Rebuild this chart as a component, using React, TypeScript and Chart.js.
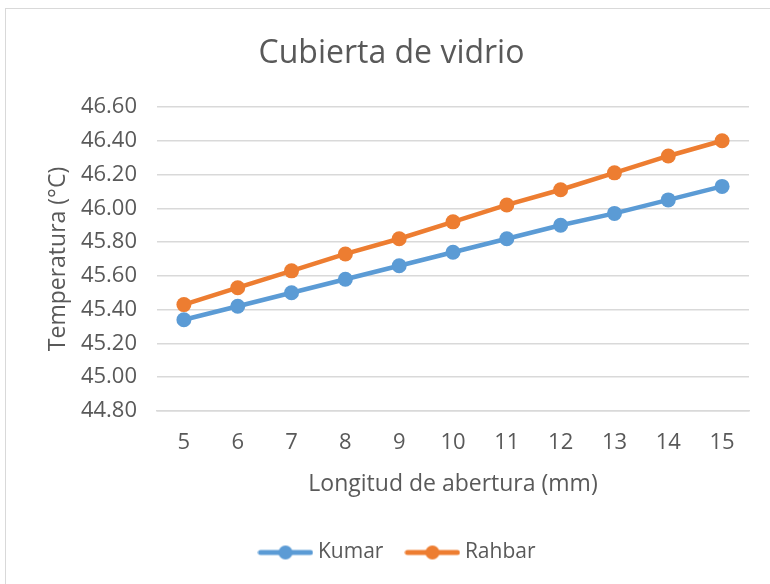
import { useEffect, useRef } from "react";
import { Chart, registerables } from "chart.js";

Chart.register(...registerables);

const categories = ["5", "6", "7", "8", "9", "10", "11", "12", "13", "14", "15"];
const kumar = [45.34, 45.42, 45.5, 45.58, 45.66, 45.74, 45.82, 45.9, 45.97, 46.05, 46.13];
const rahbar = [45.43, 45.53, 45.63, 45.73, 45.82, 45.92, 46.02, 46.11, 46.21, 46.31, 46.4];
const seriesNames = ["Kumar", "Rahbar"];
const seriesColors = ["#5B9BD5", "#ED7D31"];
const yMin = 44.8;
const yMax = 46.6;
const yStep = 0.2;
const titleText = "Cubierta de vidrio";
const xTitle = "Longitud de abertura (mm)";
const yTitle = "Temperatura (°C)";

const FONT = "'Open Sans', sans-serif";
const TEXT = "#595959";

function legendImage(color: string): HTMLCanvasElement {
  const c = document.createElement("canvas");
  c.width = 56;
  c.height = 16;
  const ctx = c.getContext("2d")!;
  ctx.strokeStyle = color;
  ctx.lineWidth = 5;
  ctx.lineCap = "round";
  ctx.beginPath();
  ctx.moveTo(3, 8);
  ctx.lineTo(53, 8);
  ctx.stroke();
  ctx.fillStyle = color;
  ctx.beginPath();
  ctx.arc(28, 8, 7, 0, Math.PI * 2);
  ctx.fill();
  return c;
}

const legendShift = {
  id: "legendShift",
  afterLayout(chart: any) {
    if (chart.legend) {
      chart.legend.left += 8;
      chart.legend.right += 8;
    }
  },
};

export default function App() {
  const ref = useRef<HTMLCanvasElement | null>(null);
  useEffect(() => {
    if (!ref.current) return;
    const images = seriesColors.map(legendImage);
    const chart = new Chart(ref.current, {
      type: "line",
      data: {
        labels: categories,
        datasets: [kumar, rahbar].map((d, i) => ({
          label: seriesNames[i],
          data: d,
          borderColor: seriesColors[i],
          backgroundColor: seriesColors[i],
          pointBackgroundColor: seriesColors[i],
          pointBorderColor: seriesColors[i],
          borderWidth: 4.5,
          pointRadius: 7.5,
          pointBorderWidth: 0,
          tension: 0,
        })),
      },
      plugins: [legendShift],
      options: {
        animation: false,
        responsive: false,
        layout: { padding: { left: 34, right: 21, top: 0, bottom: 11 } },
        plugins: {
          tooltip: { enabled: false },
          title: {
            display: true,
            text: titleText,
            color: TEXT,
            font: { family: FONT, size: 32, weight: "normal" },
            padding: { top: 35, bottom: 33.6 },
          },
          legend: {
            position: "bottom",
            labels: {
              usePointStyle: true,
              pointStyleWidth: 44,
              padding: 27,
              color: TEXT,
              font: { family: FONT, size: 21 },
              generateLabels: (ch: any) =>
                ch.data.datasets.map((ds: any, i: number) => ({
                  text: ds.label,
                  pointStyle: images[i],
                  fillStyle: ds.borderColor,
                  strokeStyle: ds.borderColor,
                  lineWidth: 0,
                  fontColor: TEXT,
                  datasetIndex: i,
                  hidden: false,
                })),
            },
          },
        },
        scales: {
          x: {
            offset: true,
            grid: { display: false },
            border: { display: true, color: "#d9d9d9", width: 1.5 },
            ticks: { color: TEXT, font: { family: FONT, size: 22 }, padding: 11 },
            title: {
              display: true,
              text: xTitle,
              color: TEXT,
              font: { family: FONT, size: 23 },
              padding: { top: 0, bottom: 17 },
            },
            afterFit: (s: any) => {
              s.height = 104;
            },
          },
          y: {
            min: yMin,
            max: yMax,
            grid: { color: "#d9d9d9", lineWidth: 1.5, drawTicks: false },
            border: { display: false },
            ticks: {
              stepSize: yStep,
              color: TEXT,
              font: { family: FONT, size: 22 },
              padding: 20,
              callback: (v: any) => Number(v).toFixed(2),
            },
            title: {
              display: true,
              text: yTitle,
              color: TEXT,
              font: { family: FONT, size: 23 },
              padding: { top: 11, bottom: 0 },
            },
            afterFit: (s: any) => {
              s.width = 123;
            },
          },
        },
      },
    });
    return () => chart.destroy();
  }, []);
  return (
    <div style={{ position: "fixed", left: 0, top: 0, width: 770, height: 584, background: "#fff" }}>
      <div
        style={{
          position: "absolute",
          left: 5,
          top: 8,
          width: 800,
          height: 700,
          border: "1px solid #d9d9d9",
        }}
      />
      <canvas ref={ref} width={770} height={584} style={{ position: "absolute", left: 0, top: 0 }} />
    </div>
  );
}
